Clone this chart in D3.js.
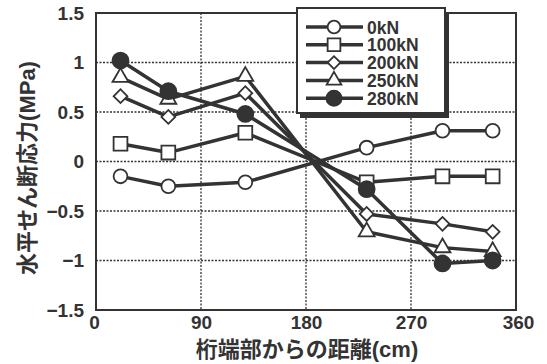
<!DOCTYPE html>
<html>
<head>
<meta charset="utf-8">
<script src="https://cdn.jsdelivr.net/npm/d3@7"></script>
<style>
  html, body { margin: 0; padding: 0; background: #fff; }
  svg { display: block; }
  text { font-family: "Liberation Sans", Arial, "Noto Sans CJK JP", sans-serif; font-weight: bold; fill: #333; }
</style>
</head>
<body>
<svg id="chart" width="547" height="364"></svg>
<script>
// Distance from girder end (cm) for each measuring point
const distances = [21, 62, 128, 232, 297, 340];

// Horizontal shear stress (MPa) per load level
const loadLabels = ["0kN", "100kN", "200kN", "250kN", "280kN"];
const stress0 = [-0.15, -0.25, -0.21, 0.14, 0.31, 0.31];
const stress100 = [0.18, 0.09, 0.29, -0.21, -0.15, -0.15];
const stress200 = [0.66, 0.45, 0.69, -0.53, -0.63, -0.71];
const stress250 = [0.85, 0.63, 0.86, -0.71, -0.87, -0.91];
const stress280 = [1.02, 0.71, 0.48, -0.28, -1.03, -1.0];
const seriesValues = [stress0, stress100, stress200, stress250, stress280];

const xTicks = [0, 90, 180, 270, 360];
const yTicks = [-1.5, -1, -0.5, 0, 0.5, 1, 1.5];
const yTickLabels = ["−1.5", "−1", "−0.5", "0", "0.5", "1", "1.5"];

const ink = "#333";
const svg = d3.select("#chart");

const x = d3.scaleLinear().domain([0, 360]).range([96, 516]);
const y = d3.scaleLinear().domain([-1.5, 1.5]).range([310, 13]);

// dotted grid
const grid = svg.append("g");
grid.selectAll("line.gx").data(xTicks.slice(1, -1)).join("line")
  .attr("x1", d => x(d)).attr("x2", d => x(d))
  .attr("y1", y(1.5)).attr("y2", y(-1.5))
  .attr("stroke", ink).attr("stroke-width", 1.3).attr("stroke-dasharray", "2,1.5");
grid.selectAll("line.gy").data(yTicks.slice(1, -1)).join("line")
  .attr("y1", d => y(d)).attr("y2", d => y(d))
  .attr("x1", x(0)).attr("x2", x(360))
  .attr("stroke", ink).attr("stroke-width", 1.3).attr("stroke-dasharray", "2,1.5");

// frame
svg.append("rect")
  .attr("x", x(0)).attr("y", y(1.5))
  .attr("width", x(360) - x(0)).attr("height", y(-1.5) - y(1.5))
  .attr("fill", "none").attr("stroke", ink).attr("stroke-width", 2);

// axes (labels only)
const tickFont = "'Liberation Sans', Arial, sans-serif";
const xAxis = svg.append("g").attr("transform", `translate(0,${y(-1.5)})`)
  .call(d3.axisBottom(x).tickValues(xTicks).tickSize(0).tickPadding(6).tickFormat(d3.format("d")));
xAxis.select(".domain").remove();
xAxis.attr("font-family", tickFont).attr("font-size", 19);
xAxis.selectAll("text").attr("fill", ink).style("font-weight", "bold")
  .attr("dx", d => d === 0 ? -2 : (d === 360 ? 2 : 0));

const yAxis = svg.append("g").attr("transform", `translate(${x(0)},0)`)
  .call(d3.axisLeft(y).tickValues(yTicks).tickSize(0).tickPadding(12)
    .tickFormat((d, i) => yTickLabels[i]));
yAxis.select(".domain").remove();
yAxis.attr("font-family", tickFont).attr("font-size", 19);
yAxis.selectAll("text").attr("fill", ink).style("font-weight", "bold");

// axis titles
svg.append("text")
  .attr("x", 307).attr("y", 357)
  .attr("text-anchor", "middle").attr("font-size", 22)
  .text("桁端部からの距離(cm)");
svg.append("text")
  .attr("transform", "translate(35,168) rotate(-90)")
  .attr("text-anchor", "middle").attr("font-size", 22)
  .text("水平せん断応力(MPa)");

// marker shapes per series
const markers = [
  { type: d3.symbolCircle, size: 150, fill: "#fff", rot: 0 },
  { type: d3.symbolSquare, size: 190, fill: "#fff", rot: 0 },
  { type: d3.symbolSquare, size: 95, fill: "#fff", rot: 45 },
  { type: d3.symbolTriangle, size: 110, fill: "#fff", rot: 0 },
  { type: d3.symbolCircle, size: 200, fill: ink, rot: 0 }
];

const line = d3.line().x(d => x(d[0])).y(d => y(d[1]));

const plot = svg.append("g");
seriesValues.forEach((vals, i) => {
  const pts = distances.map((d, j) => [d, vals[j]]);
  plot.append("path").datum(pts)
    .attr("d", line).attr("fill", "none")
    .attr("stroke", ink).attr("stroke-width", 3.5).attr("stroke-linejoin", "round");
});
seriesValues.forEach((vals, i) => {
  const m = markers[i];
  const pts = distances.map((d, j) => [d, vals[j]]);
  plot.selectAll(null).data(pts).join("path")
    .attr("d", d3.symbol().type(m.type).size(m.size))
    .attr("transform", d => `translate(${x(d[0])},${y(d[1])}) rotate(${m.rot})`)
    .attr("fill", m.fill).attr("stroke", ink).attr("stroke-width", 1.8);
});

// legend with drop shadow
const lg = svg.append("g");
lg.append("rect").attr("x", 300).attr("y", 12).attr("width", 149).attr("height", 106).attr("fill", ink);
lg.append("rect").attr("x", 297).attr("y", 8).attr("width", 148).attr("height", 105)
  .attr("fill", "#fff").attr("stroke", ink).attr("stroke-width", 2);
loadLabels.forEach((lab, i) => {
  const cy = 27 + i * 17.8;
  const m = markers[i];
  lg.append("line").attr("x1", 306).attr("x2", 363).attr("y1", cy).attr("y2", cy)
    .attr("stroke", ink).attr("stroke-width", 3.5);
  lg.append("path")
    .attr("d", d3.symbol().type(m.type).size(m.size * (i === 4 ? 0.9 : 0.85)))
    .attr("transform", `translate(334,${cy}) rotate(${m.rot})`)
    .attr("fill", m.fill).attr("stroke", ink).attr("stroke-width", 1.8);
  lg.append("text").attr("x", 367).attr("y", cy + 6.5)
    .attr("font-size", 17.5).text(lab);
});
</script>
</body>
</html>
